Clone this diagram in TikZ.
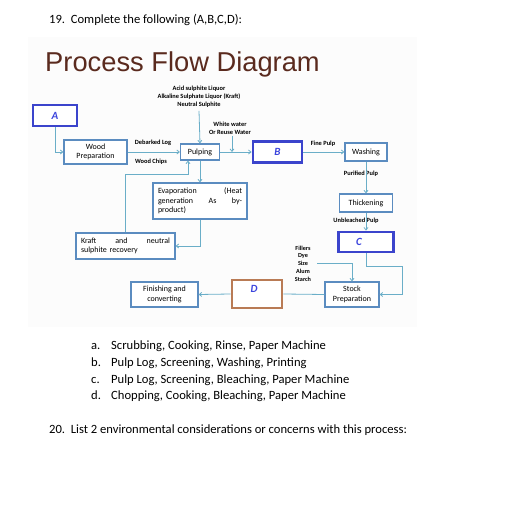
\documentclass[tikz,border=0pt]{standalone}
\usepackage{fontspec}
\setmainfont{Carlito}
\newfontfamily\arialf{Liberation Sans}
\usetikzlibrary{arrows.meta,calc}
\definecolor{boxblue}{HTML}{5B8CC0}
\definecolor{lineblue}{HTML}{6AAEC8}
\definecolor{thickblue}{HTML}{3B44CC}
\definecolor{dbrown}{HTML}{B97B55}
\definecolor{titlebrown}{HTML}{5A2A1E}
\definecolor{letterblue}{HTML}{3B44DD}
\colorlet{bggray}{black!1.3}
\tikzset{
  procbox/.style={draw=boxblue,line width=1.2pt,fill=white,inner sep=0pt,align=center,font=\fontsize{8}{9.6}\selectfont},
  blankbox/.style={draw=thickblue,line width=2.8pt,fill=white,inner sep=0pt,font=\fontsize{11}{12}\selectfont\itshape\bfseries\color{letterblue}},
  brownbox/.style={draw=dbrown,line width=2.8pt,fill=white,inner sep=0pt},
  conn/.style={draw=lineblue,line width=0.8pt},
  arr/.style={conn,-{Straight Barb[length=2.5pt,width=4pt]}},
  lbl/.style={inner sep=0pt,align=center,font=\fontsize{6.4}{7.9}\selectfont\bfseries},
  qtext/.style={inner sep=0pt,anchor=base west,font=\fontsize{12.6}{14}\selectfont}
}
\begin{document}
\begin{tikzpicture}[x=1pt,y=-1pt]
\useasboundingbox (0,0) rectangle (528,521);
\fill[white] (0,0) rectangle (528,521);
\fill[bggray] (28,37) rectangle (417,327);
% header text
\node[qtext] (q19) at (49,24) {19.\ \ Complete the following (A,B,C,D):};
\node[inner sep=0pt,anchor=base west,font=\arialf\fontsize{27.3}{30}\selectfont,text=titlebrown] (title) at (45,72) {Process Flow Diagram};
% boxes
\node[blankbox,minimum width=44pt,minimum height=21pt] (A) at (55,115.5) {A};
\node[procbox,minimum width=63pt,minimum height=24pt] (wood) at (95.5,152) {Wood\\Preparation};
\node[procbox,minimum width=39pt,minimum height=16pt] (pulp) at (200,152) {Pulping};
\node[blankbox,minimum width=49pt,minimum height=21pt] (B) at (277.5,152) {B};
\node[procbox,minimum width=42pt,minimum height=18pt] (wash) at (366,152) {Washing};
\node[procbox,minimum width=53pt,minimum height=18pt] (thick) at (366,203) {Thickening};
\node[blankbox,minimum width=55pt,minimum height=20pt] (C) at (366,242) {\hspace*{-14pt}C};
\node[procbox,minimum width=94pt,minimum height=36pt,text width=84pt,align=left] (evap) at (200,201) {\makebox[84pt][s]{Evaporation\hfill(Heat}\\\makebox[84pt][s]{generation\hfill As\hfill by-}\\product)};
\node[procbox,minimum width=99pt,minimum height=26pt,text width=89pt,align=left] (kraft) at (125.5,246) {\makebox[89pt][s]{Kraft\hfill and\hfill neutral}\\sulphite recovery};
\node[procbox,minimum width=67pt,minimum height=25pt] (fin) at (164.5,294.5) {Finishing and\\converting};
\node[brownbox,minimum width=50pt,minimum height=28pt] (D) at (257,294) {};
\node[inner sep=0pt,font=\fontsize{11}{12}\selectfont\itshape\bfseries,text=letterblue] (Dl) at (254,289) {D};
\node[procbox,minimum width=54pt,minimum height=25pt] (stock) at (352,294.5) {Stock\\Preparation};
% labels
\node[lbl] (liq) at (199,97) {Acid sulphite Liquor\\Alkaline Sulphate Liquor (Kraft)\\Neutral Sulphite};
\node[lbl] (ww) at (230,128) {White water\\Or Reuse Water};
\node[lbl] (deb) at (153,143) {Debarked Log};
\node[lbl] (chips) at (151,162) {Wood Chips};
\node[lbl] (fine) at (323,144) {Fine Pulp};
\node[lbl,font=\fontsize{6.2}{7.7}\selectfont\bfseries] (fill) at (303,263.5) {Fillers\\Dye\\Size\\Alum\\Starch};
\coordinate (wwtop) at (232,136);
\coordinate (wwend) at (232,152);
\coordinate (cr) at (402,266);
\coordinate (kp) at (188,174);
\coordinate (fillst) at (317,263);
% connectors
\draw[arr] (A.south) |- (wood.west);
\draw[arr] (wood.east) -- (pulp.west);
\draw[arr] (liq.south) ++(0,3) -- (pulp.north);
\draw[arr] (wwtop) -- (wwend);
\draw[arr] (pulp.east) -- (B.west);
\draw[arr] (B.east) -- (wash.west);
\draw[arr] (wash.south) -- (thick.north);
\draw[arr] (thick.south) -- (C.north);
\draw[arr] (C.south) |- (cr) |- (stock.east);
\draw[arr] (fillst) -| (stock.north);
\draw[conn] (stock.west) -- (D.east);
\draw[arr] (D.west) -- (fin.east);
\draw[arr] (pulp.south) -- (evap.north);
\draw[arr] (evap.south) |- (kraft.east);
\draw[arr] (kraft.north) |- (kp) -- (kp|-pulp.south);
% labels on lines
\node[lbl,fill=bggray,inner sep=0.5pt] (pur) at (361,174) {Purified Pulp};
\node[lbl,fill=bggray,inner sep=0.5pt] (unb) at (356,221) {Unbleached Pulp};
\draw[conn] (pur.north-|wash.south) -- (pur.south-|wash.south);
\draw[conn] (unb.north-|thick.south) -- (unb.south-|thick.south);
% questions
\node[qtext] (la) at (91,350) {a.};
\node[qtext] (ta) at (111,350) {Scrubbing, Cooking, Rinse, Paper Machine};
\node[qtext] (lb) at (91,367) {b.};
\node[qtext] (tb) at (111,367) {Pulp Log, Screening, Washing, Printing};
\node[qtext] (lc) at (91,384) {c.};
\node[qtext] (tc) at (111,384) {Pulp Log, Screening, Bleaching, Paper Machine};
\node[qtext] (ld) at (91,400) {d.};
\node[qtext] (td) at (111,400) {Chopping, Cooking, Bleaching, Paper Machine};
\node[qtext] (q20) at (49,434) {20.\ \ List 2 environmental considerations or concerns with this process:};
\end{tikzpicture}
\end{document}
